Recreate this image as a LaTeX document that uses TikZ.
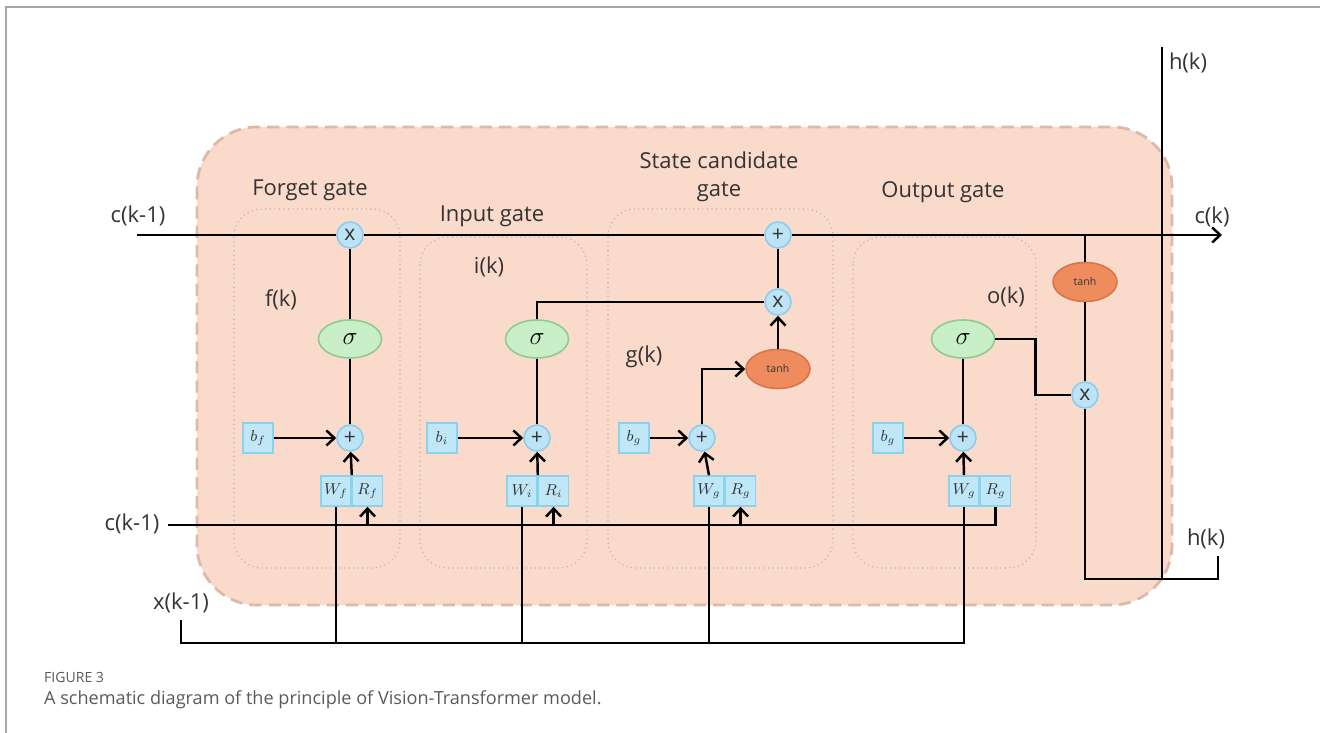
\documentclass[tikz,border=0pt]{standalone}
\usepackage{fontspec}
\setmainfont{Open Sans}
\usetikzlibrary{shapes.geometric, arrows.meta, positioning}
\definecolor{peach}{HTML}{F9DACB}
\definecolor{peachedge}{HTML}{DDB9A8}
\definecolor{opfill}{HTML}{BDE3F6}
\definecolor{opedge}{HTML}{8DCDEB}
\definecolor{sigfill}{HTML}{C8EFC8}
\definecolor{sigedge}{HTML}{92C892}
\definecolor{tanhfill}{HTML}{EE8C5E}
\definecolor{tanhedge}{HTML}{D9754A}
\definecolor{parfill}{HTML}{BFE7F8}
\definecolor{paredge}{HTML}{8AD3EF}
\definecolor{textgray}{HTML}{333333}
\definecolor{capgray}{HTML}{5A5A5A}

\begin{document}
\begin{tikzpicture}[
			x=0.02cm, y=-0.02cm,
			wire/.style={line width=1.4pt, black},
			arrow/.style={wire, -{Straight Barb[length=1.6mm, width=3mm]}},
			opnode/.style={circle, draw=opedge, fill=opfill, line width=0.9pt,
				minimum size=0.52cm, inner sep=0pt, font=\large, text=textgray},
			sigmanode/.style={ellipse, draw=sigedge, fill=sigfill, line width=0.9pt,
				minimum width=1.26cm, minimum height=0.76cm, inner sep=0pt, font=\Large},
			tanhnode/.style={ellipse, draw=tanhedge, fill=tanhfill, line width=0.9pt,
				minimum width=1.28cm, minimum height=0.78cm, inner sep=0pt,
				font=\fontsize{6}{7}\selectfont, text=textgray},
			param/.style={rectangle, draw=paredge, fill=parfill, line width=0.9pt,
				minimum size=0.6cm, inner sep=0pt, font=\small, text=textgray},
			gatebox/.style={draw=gray!60, dotted, line width=0.6pt, rounded corners=0.55cm},
			lbl/.style={font=\fontsize{12.5}{16}\selectfont, text=textgray}
			]
			\useasboundingbox (0,0) rectangle (1320,733);
			% page frame and cell
			\draw[gray!70, line width=0.8pt] (6,733) -- (6,7) -- (1320,7);
			\draw[peachedge, fill=peach, line width=1.6pt, dash pattern=on 7pt off 4pt,
				rounded corners=1.2cm] (197,127) rectangle (1172,605);
			\draw[gatebox] (234,209) rectangle (400,568);
			\draw[gatebox] (420,237) rectangle (587,568);
			\draw[gatebox] (608,209) rectangle (833,568);
			\draw[gatebox] (853,237) rectangle (1036,568);
			
			% forget gate
			\node[opnode] (fx) at (350,235) {x};
			\node[sigmanode] (fsig) at (350,339) {$\sigma$};
			\node[opnode] (fplus) at (350,438) {+};
			\node[param] (bf) at (258,438) {$b_f$};
			\node[param] (wf) at (336,491) {$W_f$};
			\node[param, right=0pt of wf] (rf) {$R_f$};
			
			% input gate
			\node[sigmanode] (isig) at (537,339) {$\sigma$};
			\node[opnode] (iplus) at (537,438) {+};
			\node[param] (bi) at (442,438) {$b_i$};
			\node[param] (wi) at (522,491) {$W_i$};
			\node[param, right=0pt of wi] (ri) {$R_i$};
			
			% state candidate gate
			\node[opnode] (splus) at (778,235) {+};
			\node[opnode] (gx) at (778,302) {x};
			\node[tanhnode] (gtanh) at (778,369) {tanh};
			\node[opnode] (gplus) at (702,438) {+};
			\node[param] (bg) at (634,438) {$b_g$};
			\node[param] (wg) at (709,491) {$W_g$};
			\node[param, right=0pt of wg] (rg) {$R_g$};
			
			% output gate
			\node[sigmanode] (osig) at (963,339) {$\sigma$};
			\node[opnode] (oplus) at (963,438) {+};
			\node[param] (bo) at (888,438) {$b_g$};
			\node[param] (wo) at (964,491) {$W_g$};
			\node[param, right=0pt of wo] (ro) {$R_g$};
			\node[tanhnode] (otanh) at (1085,282) {tanh};
			\node[opnode] (ox) at (1085,395) {x};
			
			% free ends
			\coordinate (cin) at (137,235);
			\coordinate (cout) at (1222,235);
			\coordinate (tap) at (1085,235);
			\coordinate (cprev) at (168,525);
			\coordinate (xprev) at (181,620);
			\coordinate (xbus) at (181,643);
			\coordinate (htop) at (1162,47);
			\coordinate (hcorner) at (1218,579);
			\coordinate (hout) at (1218,556);
			
			% labels
			\node[lbl] (gfl) at (310,190) {Forget gate};
			\node[lbl] (gil) at (492,216) {Input gate};
			\node[lbl, align=center] (gsl) at (719,177) {State candidate\\gate};
			\node[lbl] (gol) at (943,192) {Output gate};
			\node[lbl] (fk) at (281,300) {f(k)};
			\node[lbl] (ik) at (489,267) {i(k)};
			\node[lbl] (gk) at (644,357) {g(k)};
			\node[lbl] (ok) at (1006,297) {o(k)};
			\node[lbl] (cinl) at (138,216) {c(k-1)};
			\node[lbl] (coutl) at (1212,217) {c(k)};
			\node[lbl] (cprevl) at (132,524) {c(k-1)};
			\node[lbl] (xprevl) at (181,603) {x(k-1)};
			\node[lbl] (htopl) at (1188,63) {h(k)};
			\node[lbl] (houtl) at (1206,539) {h(k)};
			
			% cell state
			\draw[wire] (cin) -- (fx);
			\draw[wire] (fx) -- (splus);
			\draw[arrow] (splus) -- (cout);
			\draw[wire] (htop) -- (htop |- hcorner);
			
			% forget gate
			\draw[arrow] (bf) -- (fplus);
			\draw[arrow] (wf.north east) -- (fplus);
			\draw[wire] (fplus) -- (fsig);
			\draw[wire] (fsig) -- (fx);
			
			% input gate
			\draw[arrow] (bi) -- (iplus);
			\draw[arrow] (wi.north east) -- (iplus);
			\draw[wire] (iplus) -- (isig);
			\draw[wire] (isig.north) |- (gx);
			
			% state candidate gate
			\draw[arrow] (bg) -- (gplus);
			\draw[arrow] (wg.north) -- (gplus);
			\draw[arrow] (gplus) |- (gtanh);
			\draw[arrow] (gtanh) -- (gx);
			\draw[wire] (gx) -- (splus);
			
			% output gate
			\draw[arrow] (bo) -- (oplus);
			\draw[arrow] (wo.north) -- (oplus);
			\draw[wire] (oplus) -- (osig);
			\draw[wire] (osig.east) -- ++(40,0) |- (ox);
			\draw[wire] (tap) -- (otanh);
			\draw[wire] (otanh) -- (ox);
			\draw[wire] (ox) |- (hcorner) -- (hout);
			
			% c(k-1) and x(k-1) inputs
			\draw[wire] (cprev) -| (ro.south);
			\foreach \r in {rf, ri, rg}
				\draw[arrow] (\r.south |- cprev) -- (\r.south);
			\draw[wire] (xprev) -- (xbus) -| (wo.south);
			\foreach \w in {wf, wi, wg}
				\draw[wire] (\w.south |- xbus) -- (\w.south);
			
			% caption
			\node[anchor=west, font=\fontsize{8}{10}\selectfont, text=capgray] (fig) at (38,677) {FIGURE 3};
			\node[anchor=west, font=\fontsize{10.3}{12}\selectfont, text=capgray] (cap) at (38,700)
				{A schematic diagram of the principle of Vision-Transformer model.};
		\end{tikzpicture}
\end{document}
